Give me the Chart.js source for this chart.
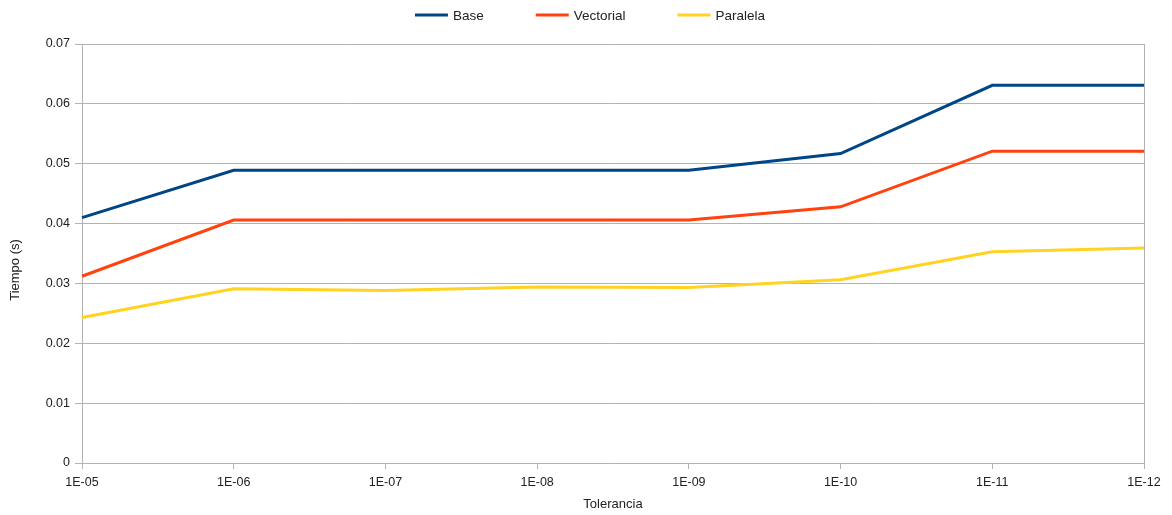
<!DOCTYPE html>
<html>
<head>
<meta charset="utf-8">
<script src="https://cdn.jsdelivr.net/npm/chart.js@4/dist/chart.umd.min.js"></script>
<style>
  html, body { margin: 0; padding: 0; background: #ffffff; }
  #wrap { width: 1172px; height: 515px; position: relative; }
</style>
</head>
<body>
<div id="wrap"><canvas id="chart"></canvas></div>
<script>
// Tolerances tested and execution time of each implementation (seconds)
const categories = ['1E-05', '1E-06', '1E-07', '1E-08', '1E-09', '1E-10', '1E-11', '1E-12'];
const seriesNames = ['Base', 'Vectorial', 'Paralela'];
const base      = [0.0410, 0.0489, 0.0489, 0.0489, 0.0489, 0.0517, 0.0631, 0.0631];
const vectorial = [0.0312, 0.0406, 0.0406, 0.0406, 0.0406, 0.0428, 0.0521, 0.0521];
const paralela  = [0.0243, 0.0291, 0.0288, 0.0294, 0.0293, 0.0306, 0.0353, 0.0359];
const yTickLabels = ['0', '0.01', '0.02', '0.03', '0.04', '0.05', '0.06', '0.07'];
const xTitle = 'Tolerancia';
const yTitle = 'Tiempo (s)';

const colors = ['#004586', '#ff420e', '#ffd320'];
const gridColor = '#b3b3b3';
const textColor = '#222222';
const fontFamily = '"Liberation Sans", Arial, sans-serif';

// Legend drawn as a single centred row above the plot, plus the vertical axis title
const decorations = {
  id: 'decorations',
  afterDraw(chart) {
    const ctx = chart.ctx;
    const lineW = 33, gapText = 5, gapItem = 52;
    ctx.save();
    ctx.font = '13.5px ' + fontFamily;
    const items = chart.data.datasets.map(ds => ({
      label: ds.label, color: ds.borderColor, w: ctx.measureText(ds.label).width
    }));
    const total = items.reduce((s, it) => s + lineW + gapText + it.w, 0) + gapItem * (items.length - 1);
    let x = chart.width / 2 + 4 - total / 2;
    const y = 15;
    items.forEach(it => {
      ctx.strokeStyle = it.color;
      ctx.lineWidth = 3;
      ctx.beginPath();
      ctx.moveTo(x, y);
      ctx.lineTo(x + lineW, y);
      ctx.stroke();
      ctx.fillStyle = textColor;
      ctx.textBaseline = 'middle';
      ctx.textAlign = 'left';
      ctx.fillText(it.label, x + lineW + gapText, y + 1);
      x += lineW + gapText + it.w + gapItem;
    });

    // y axis title, rotated
    ctx.font = '13px ' + fontFamily;
    ctx.translate(15, 270);
    ctx.rotate(-Math.PI / 2);
    ctx.textAlign = 'center';
    ctx.textBaseline = 'middle';
    ctx.fillStyle = textColor;
    ctx.fillText(yTitle, 0, 0);
    ctx.restore();
  }
};

const seriesValues = [base, vectorial, paralela];

new Chart(document.getElementById('chart'), {
  type: 'line',
  data: {
    labels: categories,
    datasets: seriesNames.map((name, i) => ({
      label: name,
      data: seriesValues[i],
      borderColor: colors[i],
      backgroundColor: colors[i],
      borderWidth: 3,
      pointRadius: 0,
      tension: 0,
      fill: false
    }))
  },
  options: {
    responsive: true,
    maintainAspectRatio: false,
    animation: false,
    layout: { padding: { top: 44, right: 28, left: 0, bottom: 0 } },
    plugins: {
      legend: { display: false },
      tooltip: { enabled: false }
    },
    scales: {
      x: {
        offset: false,
        grid: {
          color: c => (c.index === categories.length - 1 ? gridColor : 'rgba(0,0,0,0)'),
          tickColor: gridColor,
          tickLength: 6,
          drawTicks: true
        },
        border: { display: true, color: gridColor },
        ticks: {
          color: textColor,
          font: { family: fontFamily, size: 12.5 },
          padding: 6,
          maxRotation: 0,
          autoSkip: false
        },
        title: {
          display: true,
          text: xTitle,
          color: textColor,
          font: { family: fontFamily, size: 13 },
          padding: { top: 0, bottom: 3 }
        },
        afterFit(scale) { scale.height = 52; }
      },
      y: {
        min: 0,
        max: 0.07,
        ticks: {
          stepSize: 0.01,
          color: textColor,
          font: { family: fontFamily, size: 12.5 },
          padding: 5,
          callback: (v, i) => yTickLabels[i]
        },
        grid: { color: gridColor, tickColor: gridColor, tickLength: 7 },
        border: { display: true, color: gridColor },
        title: { display: false },
        afterFit(scale) { scale.width = 82; }
      }
    }
  },
  plugins: [decorations]
});
</script>
</body>
</html>
